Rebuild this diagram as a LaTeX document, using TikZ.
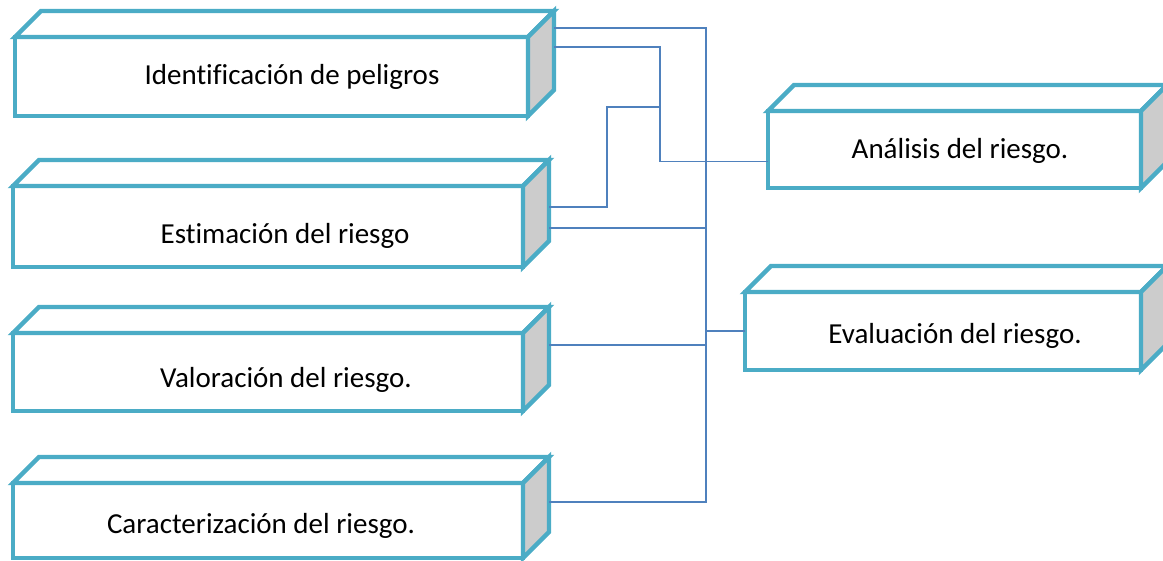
\documentclass[tikz,border=0pt]{standalone}
\usepackage{fontspec}
\setmainfont{Carlito}[Ligatures=NoCommon]
\usetikzlibrary{calc}
\definecolor{borde}{RGB}{75,172,198}
\definecolor{linea}{RGB}{79,129,189}
\definecolor{lado}{RGB}{204,204,204}

\begin{document}
\begin{tikzpicture}[x=0.5pt, y=-0.5pt,
    cara/.style={draw=borde, line width=2.2pt, fill=white, outer sep=0pt, inner sep=0pt},
    caja/.style={draw=borde, line width=2.2pt},
    texto/.style={anchor=base, font=\fontsize{14.5}{17}\selectfont},
    conector/.style={draw=linea, line width=0.8pt}]
      \useasboundingbox (0,0) rectangle (1163,561);
      % frentes de las cajas
      \node[cara, minimum width=256.5pt, minimum height=39.5pt] (ident) at (271.5,76.5) {};
      \node[cara, minimum width=255pt, minimum height=40.5pt] (estim) at (268,226.5) {};
      \node[cara, minimum width=255pt, minimum height=39pt] (valor) at (268,372) {};
      \node[cara, minimum width=255pt, minimum height=37.5pt] (caract) at (268,520.5) {};
      \node[cara, minimum width=186.5pt, minimum height=38.5pt] (analisis) at (954.5,149.5) {};
      \node[cara, minimum width=198pt, minimum height=39pt] (evalua) at (943,331) {};
      % tapa y lado
      \foreach \n in {ident,estim,valor,caract,analisis,evalua} {
        \draw[caja, fill=white] (\n.north west) -- ++(26,-26) -- ($(\n.north east)+(26,-26)$) -- (\n.north east) -- cycle;
        \draw[caja, fill=lado] (\n.north east) -- ++(26,-26) -- ($(\n.south east)+(26,-26)$) -- (\n.south east) -- cycle;
      }
      \node[texto] (t-ident) at (292,85) {Identificación de peligros};
      \node[texto] (t-estim) at (285,244) {Estimación del riesgo};
      \node[texto] (t-valor) at (286,387) {Valoración del riesgo.};
      \node[texto] (t-caract) at (261,533) {Caracterización del riesgo.};
      \node[texto] (t-analisis) at (960,159) {Análisis del riesgo.};
      \node[texto] (t-evalua) at (955,344) {Evaluación del riesgo.};
      % puntos de salida en los lados
      \coordinate (bus) at (706,0);
      \coordinate (i1) at ($(ident.north east)+(26,-9)$);
      \coordinate (i2) at ($(ident.north east)+(26,10)$);
      \coordinate (e1) at ($(estim.north east)+(26,21)$);
      \coordinate (e2) at ($(estim.north east)+(26,42)$);
      \coordinate (v1) at ($(valor.north east)+(26,12)$);
      \coordinate (c1) at ($(caract.north east)+(26,19)$);
      \coordinate (a1) at ($(analisis.west)+(0,12)$);
      \coordinate (nudo) at (660,107);
      \draw[conector] (i1) -- (i1 -| bus) -- (c1 -| bus) -- (c1);
      \draw[conector] (i2) -| (nudo) |- (a1);
      \draw[conector] (e1) -- ++(58,0) |- (nudo);
      \draw[conector] (e2) -- (e2 -| bus);
      \draw[conector] (v1) -- (v1 -| bus);
      \draw[conector] (evalua.west) -- (evalua.west -| bus);
\end{tikzpicture}
\end{document}
